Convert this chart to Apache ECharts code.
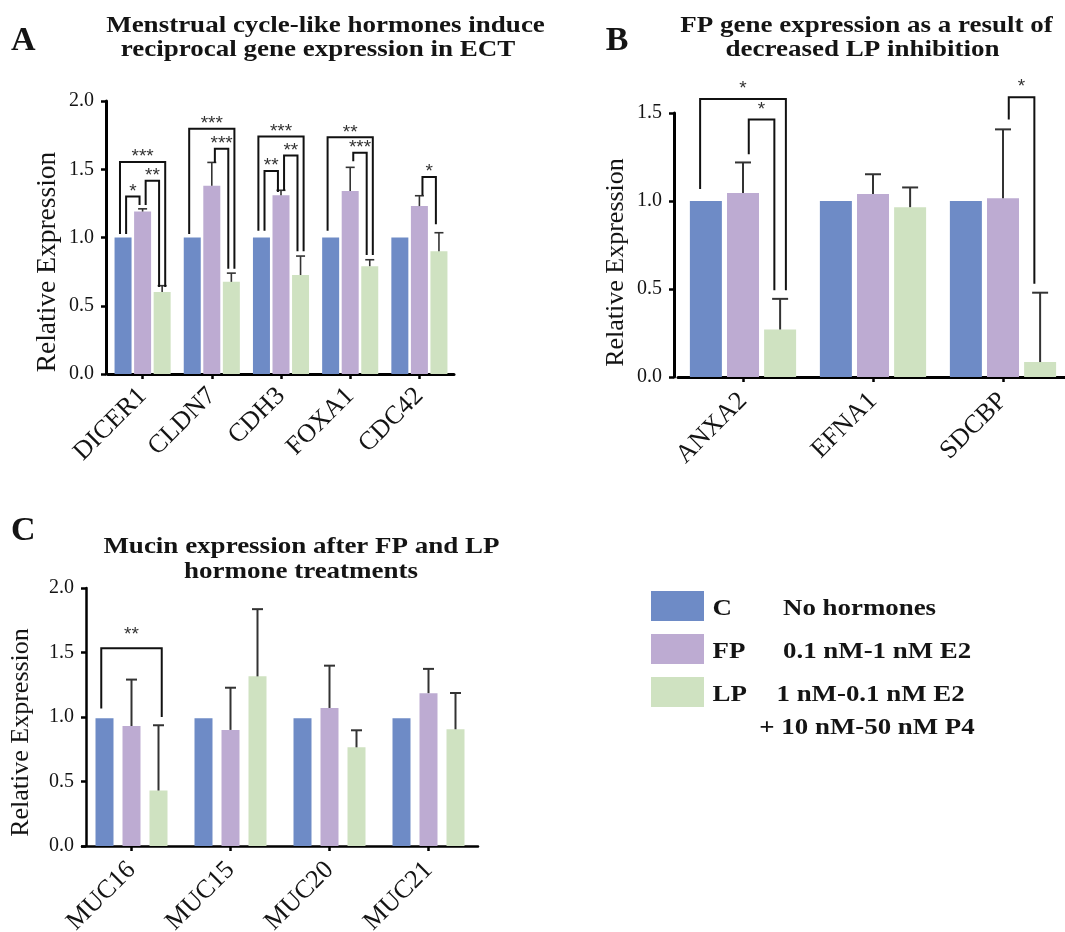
<!DOCTYPE html>
<html>
<head>
<meta charset="utf-8">
<script src="https://cdn.jsdelivr.net/npm/echarts@6/dist/echarts.min.js"></script>
<style>
html,body{margin:0;padding:0;background:#fff;}
#chart{width:1065px;height:932px;}
</style>
</head>
<body>
<div id="chart"></div>
<script>
// ---------- DATA ----------
const seriesNames = ['C', 'FP', 'LP'];
const legendDesc = ['No hormones', '0.1 nM-1 nM E2', '1 nM-0.1 nM E2', '+ 10 nM-50 nM P4'];

// Panel A
const genesA = ['DICER1', 'CLDN7', 'CDH3', 'FOXA1', 'CDC42'];
const aC = [1, 1, 1, 1, 1];
const aFP = [1.19, 1.38, 1.31, 1.34, 1.23];
const aLP = [0.60, 0.675, 0.725, 0.79, 0.90];
const aFPerr = [0.02, 0.17, 0.036, 0.174, 0.076];
const aLPerr = [0.047, 0.064, 0.139, 0.047, 0.135];
// [gene, fromGroup, toGroup, bracketTop, leftEnd, rightEnd, label]
const bracketsA = [
  ['DICER1', 0, 2, 1.553, 1.026, 0.637, '***'],
  ['DICER1', 0, 1, 1.30, 1.026, 1.238, '*'],
  ['DICER1', 1, 2, 1.416, 1.238, 0.637, '**'],
  ['CLDN7', 0, 2, 1.797, 1.026, 0.771, '***'],
  ['CLDN7', 1, 2, 1.65, 1.548, 0.771, '***'],
  ['CDH3', 0, 2, 1.74, 1.05, 0.90, '***'],
  ['CDH3', 0, 1, 1.487, 1.05, 1.333, '**'],
  ['CDH3', 1, 2, 1.60, 1.345, 0.90, '**'],
  ['FOXA1', 0, 2, 1.734, 1.05, 0.872, '**'],
  ['FOXA1', 1, 2, 1.62, 1.558, 0.872, '***'],
  ['CDC42', 1, 2, 1.443, 1.31, 1.097, '*']
];

// Panel B
const genesB = ['ANXA2', 'EFNA1', 'SDCBP'];
const bC = [1, 1, 1];
const bFP = [1.045, 1.04, 1.015];
const bLP = [0.27, 0.965, 0.085];
const bFPerr = [0.174, 0.112, 0.392];
const bLPerr = [0.174, 0.112, 0.394];
const bracketsB = [
  ['ANXA2', 0, 2, 1.58, 1.068, 0.493, '*'],
  ['ANXA2', 1, 2, 1.463, 1.265, 0.493, '*'],
  ['SDCBP', 1, 2, 1.59, 1.463, 0.53, '*']
];

// Panel C
const genesC = ['MUC16', 'MUC15', 'MUC20', 'MUC21'];
const cC = [0.99, 0.99, 0.99, 0.99];
const cFP = [0.93, 0.90, 1.07, 1.185];
const cLP = [0.43, 1.315, 0.765, 0.905];
const cFPerr = [0.36, 0.327, 0.328, 0.188];
const cLPerr = [0.506, 0.521, 0.132, 0.281];
const bracketsC = [
  ['MUC16', 0, 2, 1.532, 1.066, 1.0, '**']
];

const yTicksA = ['0.0', '0.5', '1.0', '1.5', '2.0'];
const yTicksB = ['0.0', '0.5', '1.0', '1.5'];
const yTicksC = ['0.0', '0.5', '1.0', '1.5', '2.0'];

// ---------- STYLE ----------
const colors = ['#6E8BC6', '#BDABD2', '#CFE2C1'];
const SERIF = '"Liberation Serif", "Times New Roman", serif';
const INK = '#141414';

const panels = [
  { genes: genesA, C: aC, FP: aFP, LP: aLP, FPerr: aFPerr, LPerr: aLPerr, br: bracketsA, ticks: yTicksA,
    max: 2, bw: 17, gapPct: 0.15, cap: 9, elw: 1.6, blw: 2, lblGap: 5, axw: 3, yOffset: 2, xMargin: 18, xPad: [0, 0, 0, 0],
    grid: { left: 108, top: 101, width: 346, height: 273 } },
  { genes: genesB, C: bC, FP: bFP, LP: bLP, FPerr: bFPerr, LPerr: bLPerr, br: bracketsB, ticks: yTicksB,
    max: 1.5, bw: 32, gapPct: 0.16, cap: 16, elw: 2, blw: 2, lblGap: 10, axw: 3, yOffset: 4, xMargin: 20, xPad: [40, 0, 0, 0],
    grid: { left: 678, top: 113, width: 390, height: 264 } },
  { genes: genesC, C: cC, FP: cFP, LP: cLP, FPerr: cFPerr, LPerr: cLPerr, br: bracketsC, ticks: yTicksC,
    max: 2, bw: 18, gapPct: 0.5, cap: 11, elw: 2, blw: 2, lblGap: 14, axw: 2.5, yOffset: -4, xMargin: 20, xPad: [0, 0, 0, 0],
    grid: { left: 82, top: 588, width: 396, height: 258 } }
];

const grids = [], xAxes = [], yAxes = [], series = [];

panels.forEach((p, i) => {
  grids.push(Object.assign({ containLabel: false, outerBoundsMode: 'none' }, p.grid));
  xAxes.push({
    type: 'category', gridIndex: i, data: p.genes,
    axisLine: { lineStyle: { color: '#000', width: p.axw } },
    axisTick: { show: true, alignWithLabel: true, length: 5, lineStyle: { color: '#000', width: 2.5 } },
    axisLabel: { rotate: 45, interval: 0, margin: p.xMargin, padding: p.xPad, fontFamily: SERIF, fontSize: 26, color: INK },
    splitLine: { show: false }
  });
  yAxes.push({
    type: 'value', gridIndex: i, min: 0, max: p.max, interval: 0.5, offset: p.yOffset,
    axisLine: { show: true, lineStyle: { color: '#000', width: p.axw } },
    axisTick: { show: true, length: 5, lineStyle: { color: '#000', width: 2.5 } },
    axisLabel: { margin: 12, fontFamily: SERIF, fontSize: 20, color: INK,
      formatter: (v) => p.ticks[Math.round(v / 0.5)] },
    splitLine: { show: false }
  });
  const vals = [p.C, p.FP, p.LP];
  vals.forEach((d, g) => {
    series.push({
      type: 'bar', name: seriesNames[g], xAxisIndex: i, yAxisIndex: i, data: d,
      barWidth: p.bw, barGap: Math.round(p.gapPct * 100) + '%',
      itemStyle: { color: colors[g] }, silent: true
    });
  });
  const step = p.bw * (1 + p.gapPct);
  // error bars
  const errItems = [];
  p.FP.forEach((v, k) => errItems.push([k, 1, v, v + p.FPerr[k]]));
  p.LP.forEach((v, k) => errItems.push([k, 2, v, v + p.LPerr[k]]));
  series.push({
    type: 'custom', xAxisIndex: i, yAxisIndex: i, data: errItems, encode: { x: 0, y: 3 }, silent: true, z: 5,
    renderItem: (params, api) => {
      const cat = api.value(0), g = api.value(1);
      const b = api.coord([cat, api.value(2)]);
      const t = api.coord([cat, api.value(3)]);
      const x = b[0] + (g - 1) * step;
      return { type: 'group', children: [
        { type: 'line', shape: { x1: x, y1: b[1], x2: x, y2: t[1] }, style: { stroke: '#333', lineWidth: p.elw } },
        { type: 'line', shape: { x1: x - p.cap / 2, y1: t[1], x2: x + p.cap / 2, y2: t[1] }, style: { stroke: '#333', lineWidth: p.elw } }
      ] };
    }
  });
  // significance brackets
  const brItems = p.br.map(b => [p.genes.indexOf(b[0]), b[1], b[2], b[3], b[4], b[5]]);
  const k = 0.18 * p.bw;
  series.push({
    type: 'custom', xAxisIndex: i, yAxisIndex: i, data: brItems, encode: { x: 0, y: 3 }, silent: true, z: 6, clip: false,
    renderItem: (params, api) => {
      const cat = api.value(0), f = api.value(1), to = api.value(2);
      const c = api.coord([cat, api.value(3)]);
      const yl = api.coord([cat, api.value(4)])[1];
      const yr = api.coord([cat, api.value(5)])[1];
      const span = to - f;
      const lx = c[0] + (f - 1) * step + (span === 2 ? -k : k);
      const rx = c[0] + (to - 1) * step + (span === 2 ? k : -k);
      const label = p.br[params.dataIndex][6];
      return { type: 'group', children: [
        { type: 'polyline', shape: { points: [[lx, yl], [lx, c[1]], [rx, c[1]], [rx, yr]] },
          style: { stroke: '#111', lineWidth: p.blw, fill: null } },
        { type: 'text', x: (lx + rx) / 2, y: c[1] - p.lblGap,
          style: { text: label, font: '19px "Liberation Sans", Arial, sans-serif', fill: '#333',
            align: 'center', textAlign: 'center', verticalAlign: 'middle', textVerticalAlign: 'middle' } }
      ] };
    }
  });
});

function txt(str, x, y, font, opts) {
  return Object.assign({
    type: 'text', x: x, y: y, silent: true,
    style: { text: str, font: font, fill: INK, align: 'center', textAlign: 'center',
      verticalAlign: 'middle', textVerticalAlign: 'middle' }
  }, opts || {});
}
function ltxt(str, x, y, font) {
  return { type: 'text', x: x, y: y, silent: true, scaleX: 1.12,
    style: { text: str, font: font, fill: INK, align: 'left', textAlign: 'left',
      verticalAlign: 'middle', textVerticalAlign: 'middle' } };
}

const TITLE = 'bold 24px ' + SERIF;
const LETTER = 'bold 34px ' + SERIF;
const LEG = 'bold 24px ' + SERIF;
const WIDE = { scaleX: 1.125 };

const graphic = [
  txt('A', 23.3, 41.5, LETTER),
  txt('B', 617, 41, LETTER),
  txt('C', 23.3, 531.5, LETTER),
  txt('Menstrual cycle-like hormones induce', 325.5, 26, TITLE, WIDE),
  txt('reciprocal gene expression in ECT', 318, 50, TITLE, WIDE),
  txt('FP gene expression as a result of', 866.5, 26, TITLE, WIDE),
  txt('decreased LP inhibition', 862.5, 50, TITLE, WIDE),
  txt('Mucin expression after FP and LP', 301.5, 546.5, TITLE, WIDE),
  txt('hormone treatments', 301, 571.5, TITLE, WIDE),
  txt('Relative Expression', 48, 262, '27.5px ' + SERIF, { rotation: Math.PI / 2 }),
  txt('Relative Expression', 616.5, 262.5, '26px ' + SERIF, { rotation: Math.PI / 2 }),
  txt('Relative Expression', 21.5, 732.5, '26px ' + SERIF, { rotation: Math.PI / 2 }),
  // legend
  { type: 'rect', shape: { x: 651, y: 591, width: 53, height: 30 }, style: { fill: colors[0] }, silent: true },
  { type: 'rect', shape: { x: 651, y: 634, width: 53, height: 30 }, style: { fill: colors[1] }, silent: true },
  { type: 'rect', shape: { x: 651, y: 677, width: 53, height: 30 }, style: { fill: colors[2] }, silent: true },
  ltxt(seriesNames[0], 712.5, 608.6, LEG),
  ltxt(legendDesc[0], 783, 608.6, LEG),
  ltxt(seriesNames[1], 712.5, 652.2, LEG),
  ltxt(legendDesc[1], 783, 652.2, LEG),
  ltxt(seriesNames[2], 712.5, 695.2, LEG),
  ltxt(legendDesc[2], 776.5, 695.2, LEG),
  ltxt(legendDesc[3], 759.3, 728, LEG)
];

const option = {
  animation: false,
  backgroundColor: '#fff',
  grid: grids,
  xAxis: xAxes,
  yAxis: yAxes,
  series: series,
  graphic: graphic
};

const chart = echarts.init(document.getElementById('chart'), null, { renderer: 'canvas' });
chart.setOption(option);
</script>
</body>
</html>
